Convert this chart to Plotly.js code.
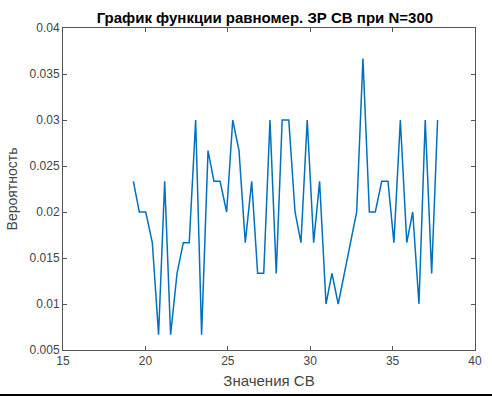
<!DOCTYPE html>
<html>
<head>
<meta charset="utf-8">
<script src="https://cdn.plot.ly/plotly-3.0.1.min.js"></script>
<style>
html,body{margin:0;padding:0;background:#fff;overflow:hidden;}
#chart{width:492px;height:396px;}
#frame{position:fixed;left:0;right:0;bottom:0;height:2px;background:#000;}
</style>
</head>
<body>
<div id="chart"></div>
<div id="frame"></div>
<script>
const xValues = [19.27, 19.63, 20.02, 20.42, 20.8, 21.17, 21.53, 21.92, 22.3, 22.66,
  23.05, 23.41, 23.8, 24.16, 24.53, 24.93, 25.3, 25.68, 26.06, 26.45,
  26.81, 27.18, 27.56, 27.94, 28.3, 28.7, 29.08, 29.44, 29.82, 30.21,
  30.57, 30.96, 31.32, 31.7, 32.82, 33.2, 33.59, 33.95, 34.34, 34.72,
  35.08, 35.47, 35.86, 36.22, 36.6, 36.98, 37.37, 37.73];
const probValues = [0.02333, 0.02, 0.02, 0.01667, 0.00667, 0.02333, 0.00667, 0.01333, 0.01667, 0.01667,
  0.03, 0.00667, 0.02667, 0.02333, 0.02333, 0.02, 0.03, 0.02667, 0.01667, 0.02333,
  0.01333, 0.01333, 0.03, 0.01333, 0.03, 0.03, 0.02, 0.01667, 0.03, 0.01667,
  0.02333, 0.01, 0.01333, 0.01, 0.02, 0.03667, 0.02, 0.02, 0.02333, 0.02333,
  0.01667, 0.03, 0.01667, 0.02, 0.01, 0.03, 0.01333, 0.03];
const xTicks = [15, 20, 25, 30, 35, 40];
const yTicks = [0.005, 0.01, 0.015, 0.02, 0.025, 0.03, 0.035, 0.04];
const yTickLabels = ['0.005', '0.01', '0.015', '0.02', '0.025', '0.03', '0.035', '0.04'];

const axisColor = '#555555';
const textColor = '#444444';
const fontFam = '"Liberation Sans", Arial, sans-serif';

const trace = {
  x: xValues, y: probValues, type: 'scatter', mode: 'lines',
  line: {color: '#0072BD', width: 1.5}, hoverinfo: 'x+y'
};

const layout = {
  width: 492, height: 396,
  margin: {l: 63, r: 17, t: 28, b: 46},
  paper_bgcolor: '#ffffff', plot_bgcolor: '#ffffff',
  showlegend: false,
  font: {family: fontFam, size: 12, color: textColor},
  title: {
    text: '<b>График функции равномер. ЗР СВ при N=300</b>',
    font: {family: fontFam, size: 15, color: '#000000'},
    xref: 'paper', x: 0.49, xanchor: 'center', yref: 'container', y: 0.955, yanchor: 'middle'
  },
  xaxis: {
    range: [15, 40], tickvals: xTicks, ticktext: xTicks.map(String),
    ticks: 'inside', ticklen: 4, tickcolor: axisColor, tickwidth: 1,
    showline: true, linecolor: axisColor, linewidth: 1, mirror: 'ticks',
    showgrid: false, zeroline: false,
    tickfont: {family: fontFam, size: 12, color: textColor},
    title: {text: 'Значения СВ', font: {family: fontFam, size: 15, color: textColor}, standoff: 8}
  },
  yaxis: {
    range: [0.005, 0.04], tickvals: yTicks, ticktext: yTickLabels,
    ticks: 'inside', ticklen: 4, tickcolor: axisColor, tickwidth: 1,
    showline: true, linecolor: axisColor, linewidth: 1, mirror: 'ticks',
    showgrid: false, zeroline: false,
    tickfont: {family: fontFam, size: 12, color: textColor},
    title: {text: 'Вероятность', font: {family: fontFam, size: 14, color: textColor}, standoff: 8}
  }
};

Plotly.newPlot('chart', [trace], layout, {displayModeBar: false, staticPlot: true});
</script>
</body>
</html>
